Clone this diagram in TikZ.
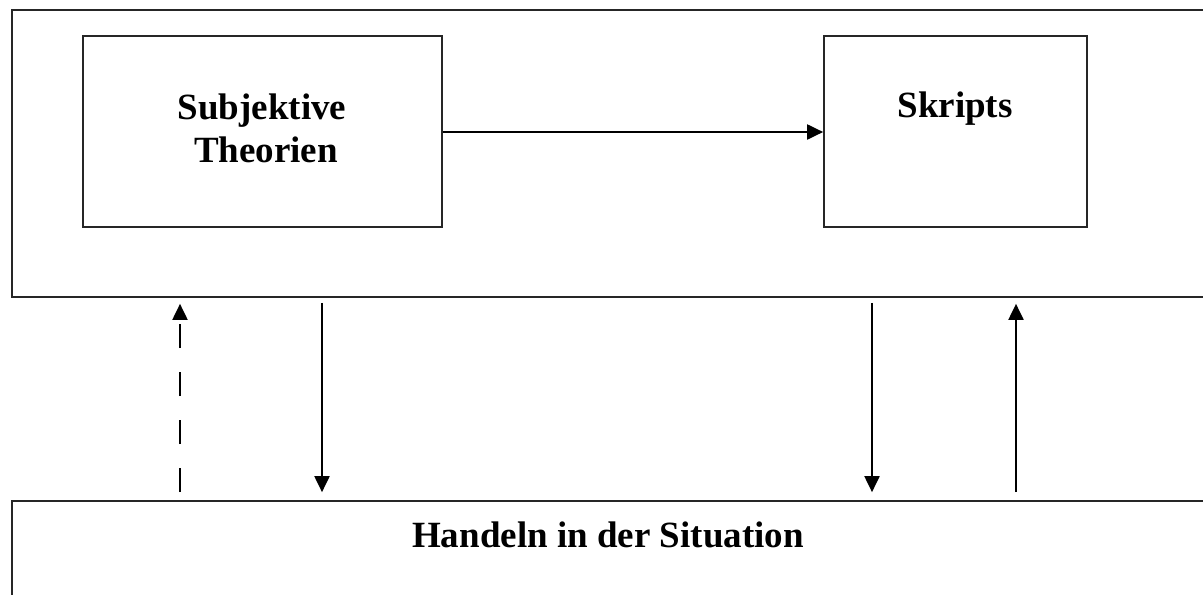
\documentclass[tikz,border=0pt]{standalone}
\usepackage{fontspec}
\setmainfont{Liberation Serif}
\usetikzlibrary{arrows.meta,fit}
\begin{document}
\begin{tikzpicture}[x=0.5pt,y=-0.5pt,
  box/.style={draw=black!85,line width=0.85pt,inner sep=0pt},
  lbl/.style={font=\bfseries\fontsize{18.5}{21.5}\selectfont,anchor=base,inner sep=0pt},
  arr/.style={draw=black,line width=1pt,-{Triangle[length=8pt,width=7.5pt]}},
  upgap/.style={shorten <=4pt,shorten >=3pt},
  downgap/.style={shorten <=2.5pt,shorten >=4pt}]
\useasboundingbox (0,0) rectangle (1203,594);
\clip (0,0) rectangle (1203,594);
\fill[white] (0,0) rectangle (1203,594);
% frames
\node[box,fit={(12,10) (1212,297)}] (T) {};
\node[box,fit={(12,501) (1212,604)}] (B) {};
\node[box,fit={(83,36) (442,227)}] (L) {};
\node[box,fit={(824,36) (1087,227)}] (R) {};
% labels
\node[lbl] (t1) at (262,119) {Subjektive};
\node[lbl] (t2) at (266,162) {Theorien};
\node[lbl] (t3) at (955,117) {Skripts};
\node[lbl] (t4) at (608,547) {Handeln in der Situation};
% x positions of vertical connectors
\coordinate (xa) at (180,0);
\coordinate (xb) at (322,0);
\coordinate (xc) at (872,0);
\coordinate (xd) at (1016,0);
% connectors
\draw[arr] (L.east |- 0,132) -- (R.west |- 0,132);
\draw[arr,upgap,dash pattern=on 12pt off 12pt] (B.north -| xa) -- (T.south -| xa);
\draw[arr,downgap] (T.south -| xb) -- (B.north -| xb);
\draw[arr,downgap] (T.south -| xc) -- (B.north -| xc);
\draw[arr,upgap] (B.north -| xd) -- (T.south -| xd);
\end{tikzpicture}
\end{document}
